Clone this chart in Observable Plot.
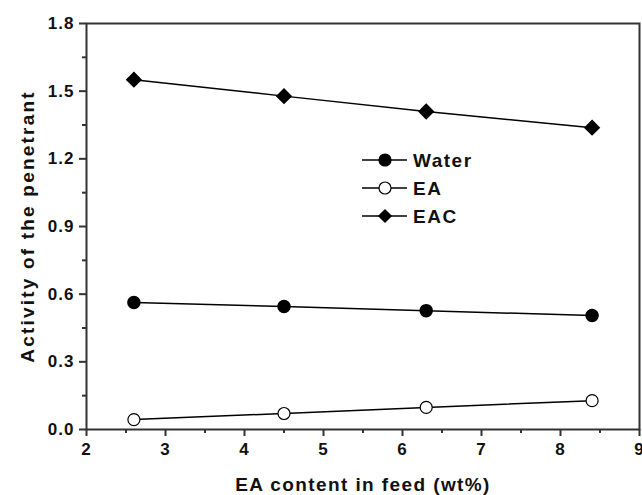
<!DOCTYPE html>
<html>
<head>
<meta charset="utf-8">
<script src="https://cdn.jsdelivr.net/npm/d3@7"></script>
<script src="https://cdn.jsdelivr.net/npm/@observablehq/plot@0.6"></script>
<style>
  html, body { margin: 0; padding: 0; background: #fff; }
  #wrap { position: relative; width: 642px; height: 495px; }
  #legend { position: absolute; left: 0; top: 0; }
</style>
</head>
<body>
<div id="wrap"></div>
<script>
const xValues = [2.6, 4.5, 6.3, 8.4];
const water = [0.563, 0.545, 0.527, 0.505];
const ea = [0.044, 0.071, 0.098, 0.128];
const eac = [1.551, 1.478, 1.41, 1.338];
const seriesNames = ["Water", "EA", "EAC"];
const xTicks = [2, 3, 4, 5, 6, 7, 8, 9];
const xMinor = [2.5, 3.5, 4.5, 5.5, 6.5, 7.5, 8.5];
const yTicks = [0, 0.3, 0.6, 0.9, 1.2, 1.5, 1.8];
const yMinor = [0.15, 0.45, 0.75, 1.05, 1.35, 1.65];

const seriesValues = [water, ea, eac];
const data = [];
seriesNames.forEach((name, i) => {
  xValues.forEach((x, j) => data.push({series: name, x, y: seriesValues[i][j]}));
});

const font = "'Liberation Sans', Arial, sans-serif";
const axisColor = "#333";

const chart = Plot.plot({
  width: 642,
  height: 495,
  marginLeft: 86,
  marginRight: 3,
  marginTop: 23,
  marginBottom: 66,
  style: {fontFamily: font, fontSize: "17px", fontWeight: "bold", color: "#111", background: "#fff"},
  x: {domain: [2, 9]},
  y: {domain: [0, 1.8]},
  marks: [
    Plot.frame({stroke: axisColor, strokeWidth: 2}),
    Plot.axisX({ticks: xTicks, tickSize: 7, tickPadding: 6, strokeWidth: 2, stroke: axisColor,
      label: "EA content in feed (wt%)", labelAnchor: "center", labelOffset: 61, labelArrow: "none",
      tickFormat: d3.format("d")}),
    Plot.axisX({ticks: xMinor, tickSize: 4, strokeWidth: 2, stroke: axisColor, text: null, label: null}),
    Plot.axisY({ticks: yTicks, tickSize: 7, tickPadding: 5, strokeWidth: 2, stroke: axisColor,
      label: "Activity of the penetrant", labelAnchor: "center", labelOffset: 66, labelArrow: "none",
      tickFormat: d3.format(".1f")}),
    Plot.axisY({ticks: yMinor, tickSize: 4, strokeWidth: 2, stroke: axisColor, text: null, label: null}),
    Plot.line(data, {x: "x", y: "y", z: "series", stroke: "#000", strokeWidth: 1.5}),
    Plot.dot(data.filter(d => d.series === "Water"), {x: "x", y: "y", r: 6, fill: "#000", stroke: "#000"}),
    Plot.dot(data.filter(d => d.series === "EA"), {x: "x", y: "y", r: 6, fill: "#fff", stroke: "#000", strokeWidth: 1.2}),
    Plot.dot(data.filter(d => d.series === "EAC"), {x: "x", y: "y", r: 6.4, symbol: "diamond2", fill: "#000", stroke: "#000"})
  ]
});

// enforce font sizes
const svg = d3.select(chart.tagName === "svg" ? chart : chart.querySelector("svg"));
svg.selectAll("g[aria-label$='tick label']").style("font-size", "17px").style("font-weight", "bold")
  .style("letter-spacing", "1px").attr("fill", "#111");
svg.selectAll("g[aria-label='x-axis label']").style("font-size", "19px").style("font-weight", "bold")
  .style("letter-spacing", "1.4px").attr("fill", "#111");
svg.selectAll("g[aria-label='y-axis label']").style("font-size", "19px").style("font-weight", "bold")
  .style("letter-spacing", "2.2px").attr("fill", "#111");

const wrap = document.getElementById("wrap");
wrap.appendChild(chart);

// Legend overlay
const leg = d3.select(wrap).append("svg").attr("id", "legend").attr("width", 642).attr("height", 495)
  .style("font-family", font);
const rows = [
  {name: seriesNames[0], kind: "filled"},
  {name: seriesNames[1], kind: "open"},
  {name: seriesNames[2], kind: "diamond"}
];
rows.forEach((r, i) => {
  const y = 160 + i * 28;
  const g = leg.append("g");
  g.append("line").attr("x1", 362).attr("x2", 407).attr("y1", y).attr("y2", y).attr("stroke", "#000").attr("stroke-width", 1.5);
  if (r.kind === "diamond") {
    g.append("path").attr("d", d3.symbol(d3.symbolDiamond2, 128)()).attr("transform", `translate(385,${y})`).attr("fill", "#000");
  } else {
    g.append("circle").attr("cx", 385).attr("cy", y).attr("r", 6)
      .attr("fill", r.kind === "filled" ? "#000" : "#fff").attr("stroke", "#000").attr("stroke-width", 1.2);
  }
  g.append("text").attr("x", 413).attr("y", y).attr("dy", "0.36em").attr("font-size", 19).attr("font-weight", "bold")
    .attr("letter-spacing", 1.5).attr("fill", "#111").text(r.name);
});
</script>
</body>
</html>
